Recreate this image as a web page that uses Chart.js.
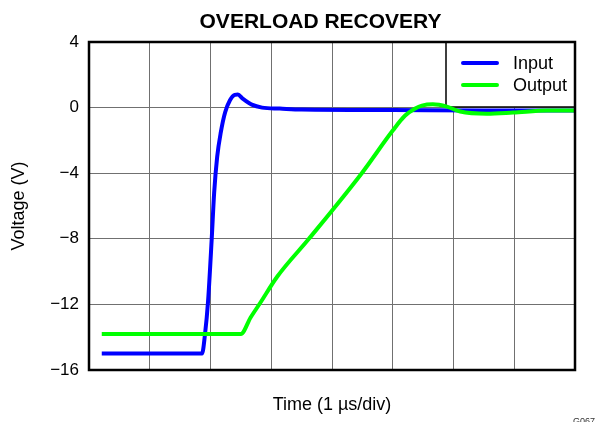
<script src="https://cdn.jsdelivr.net/npm/chart.js@4/dist/chart.umd.min.js"></script>

<style>
  body { margin: 0; background: #fff; }
  #wrap { width: 597px; height: 422px; }
</style>
<div id="wrap"><canvas id="canvas"></canvas></div>
<script>
// time in divisions (1 µs/div), voltage in volts
const inputTime = [0.21, 1.86, 1.91, 1.96, 2.02, 2.06, 2.11, 2.17, 2.24, 2.32, 2.40, 2.45, 2.53, 2.68, 2.85, 3.14, 3.5, 5.0, 6.5, 8.0];
const inputVolt = [-15, -15, -13.8, -11.8, -8, -5.2, -3.0, -1.5, -0.3, 0.45, 0.78, 0.8, 0.55, 0.18, 0, -0.06, -0.12, -0.15, -0.17, -0.17];

const outputTime = [0.21, 2.5, 2.66, 2.82, 3.1, 3.62, 4.49, 5.0, 5.2, 5.37, 5.48, 5.66, 5.89, 6.11, 6.55, 6.98, 7.54, 8.0];
const outputVolt = [-13.8, -13.8, -12.8, -11.9, -10.3, -8, -4, -1.4, -0.5, -0.06, 0.12, 0.2, 0.06, -0.24, -0.37, -0.3, -0.18, -0.17];

const yTicks = [-16, -12, -8, -4, 0, 4];

const FONT = "'Liberation Sans', Arial, sans-serif";

const pts = (xs, ys) => xs.map((x, i) => ({x: x, y: ys[i]}));

// frame, legend box, title and figure tag
const decor = {
  id: 'decor',
  beforeDatasetsDraw(chart) {
    const ctx = chart.ctx;
    const a = chart.chartArea;
    const bx = 446, by = a.top, bw = a.right - 446, bh = 65;
    ctx.save();
    ctx.fillStyle = '#fff';
    ctx.fillRect(bx, by, bw, bh);
    ctx.strokeStyle = '#000';
    ctx.lineWidth = 1.5;
    ctx.strokeRect(bx, by, bw, bh);
    ctx.font = '18px ' + FONT;
    ctx.textBaseline = 'middle';
    ctx.fillStyle = '#000';
    chart.data.datasets.forEach((ds, i) => {
      const y = by + 21 + i * 22;
      ctx.strokeStyle = ds.borderColor;
      ctx.lineWidth = 4;
      ctx.lineCap = 'round';
      ctx.beginPath();
      ctx.moveTo(463, y);
      ctx.lineTo(497, y);
      ctx.stroke();
      ctx.fillText(ds.label, 513, y + 1);
    });
    ctx.restore();
  },
  afterDraw(chart) {
    const ctx = chart.ctx;
    const a = chart.chartArea;
    ctx.save();
    ctx.strokeStyle = '#000';
    ctx.lineWidth = 2.5;
    ctx.strokeRect(a.left, a.top, a.right - a.left, a.bottom - a.top);
    ctx.fillStyle = '#000';
    ctx.font = 'bold 21px ' + FONT;
    ctx.textAlign = 'center';
    ctx.textBaseline = 'alphabetic';
    ctx.fillText('OVERLOAD RECOVERY', 320.5, 28);
    ctx.font = '9px ' + FONT;
    ctx.fillStyle = '#333';
    ctx.textAlign = 'left';
    ctx.fillText('G067', 573, 424);
    ctx.restore();
  }
};

new Chart(document.getElementById('canvas'), {
  type: 'line',
  data: {
    datasets: [{
      label: 'Input',
      data: pts(inputTime, inputVolt),
      borderColor: '#0000ff',
      borderWidth: 4,
      pointRadius: 0,
      cubicInterpolationMode: 'monotone',
      order: 1
    }, {
      label: 'Output',
      data: pts(outputTime, outputVolt),
      borderColor: '#00ff00',
      borderWidth: 4,
      pointRadius: 0,
      cubicInterpolationMode: 'monotone',
      order: 0
    }]
  },
  options: {
    responsive: true,
    maintainAspectRatio: false,
    animation: false,
    layout: { padding: { top: 42, right: 22, left: 0, bottom: 0 } },
    plugins: {
      legend: { display: false },
      tooltip: { enabled: false }
    },
    scales: {
      x: {
        type: 'linear',
        min: 0,
        max: 8,
        ticks: { display: false, stepSize: 1 },
        grid: { color: '#707070', lineWidth: 1, drawTicks: false },
        border: { display: false },
        title: {
          display: true,
          text: 'Time (1 µs/div)',
          color: '#000',
          font: { family: FONT, size: 18 },
          padding: { top: 0, bottom: 6 }
        },
        afterFit(s) { s.height = 52; }
      },
      y: {
        min: -16,
        max: 4,
        afterBuildTicks(s) { s.ticks = yTicks.map(v => ({value: v})); },
        ticks: {
          color: '#000',
          padding: 10,
          font: { family: FONT, size: 17 },
          callback: v => v < 0 ? '\u2212' + Math.abs(v) : String(v)
        },
        grid: { color: '#707070', lineWidth: 1, drawTicks: false },
        border: { display: false },
        title: {
          display: true,
          text: 'Voltage (V)',
          color: '#000',
          font: { family: FONT, size: 18 },
          padding: { top: 8, bottom: 0 }
        },
        afterFit(s) { s.width = 89; }
      }
    }
  },
  plugins: [decor]
});
</script>
